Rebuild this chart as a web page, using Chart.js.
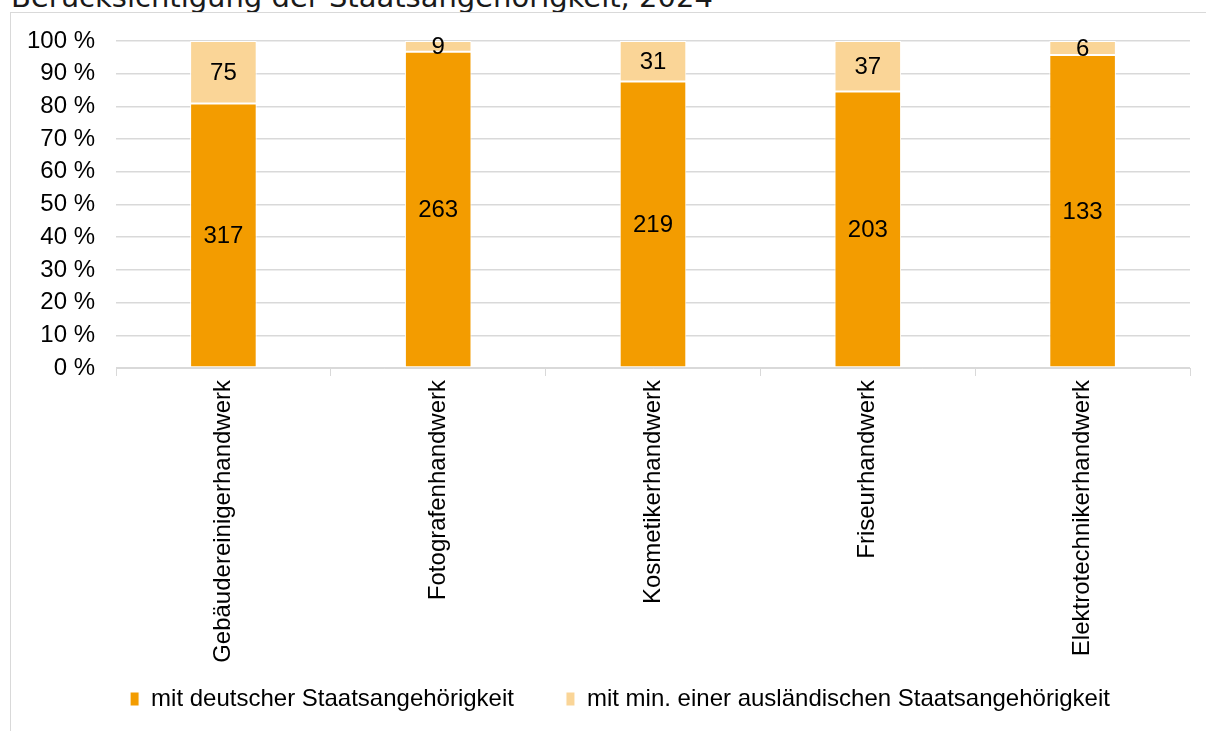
<!DOCTYPE html>
<html>
<head>
<meta charset="utf-8">
<script src="https://cdn.jsdelivr.net/npm/chart.js@4"></script>
<style>
  html, body { margin: 0; padding: 0; background: #fff; overflow: hidden; }
  #wrap { position: relative; width: 1206px; height: 731px; }
  #titel { position: absolute; left: 11px; top: -17px; font: 29px/29px 'DejaVu Sans', sans-serif; color: #1a1a1a; white-space: nowrap; }
  #rahmen { position: absolute; left: 10px; top: 12px; width: 1210px; height: 740px; border: 1px solid #d9d9d9; }
  #grafik { position: absolute; left: 0; top: 0; }
</style>
</head>
<body>
<div id="wrap">
  <div id="titel">Berücksichtigung der Staatsangehörigkeit, 2024</div>
  <div id="rahmen"></div>
  <canvas id="grafik" width="1206" height="731"></canvas>
</div>
<script>
const kategorien = ['Gebäudereinigerhandwerk', 'Fotografenhandwerk', 'Kosmetikerhandwerk', 'Friseurhandwerk', 'Elektrotechnikerhandwerk']
const deutsch = [317, 263, 219, 203, 133]
const auslaendisch = [75, 9, 31, 37, 6]
const serienNamen = ['mit deutscher Staatsangehörigkeit', 'mit min. einer ausländischen Staatsangehörigkeit']

// Anteile in Prozent (gestapelt auf 100 %)
const anteil = (werte) => werte.map((w, i) => w / (deutsch[i] + auslaendisch[i]) * 100)

Chart.defaults.font.family = "'Liberation Sans', Arial, sans-serif"
Chart.defaults.font.size = 24
Chart.defaults.color = '#000'

// Zahlen in die Balken schreiben
const wertePlugin = {
  id: 'werte',
  afterDatasetsDraw(chart) {
    const ctx = chart.ctx
    ctx.save()
    ctx.font = "24px 'Liberation Sans', Arial, sans-serif"
    ctx.fillStyle = '#000'
    ctx.textAlign = 'center'
    ctx.textBaseline = 'middle'
    chart.data.datasets.forEach((ds, d) => {
      chart.getDatasetMeta(d).data.forEach((bar, i) => {
        const mitte = (bar.y + bar.base) / 2
        ctx.fillText(ds.anzahl[i], bar.x, mitte + 1)
      })
    })
    ctx.restore()
  }
}

// lange Kategorienamen nicht abschneiden, Legende etwas nach rechts
const feinschliff = {
  id: 'feinschliff',
  beforeDraw(chart) {
    chart.scales.x.bottom = chart.height
    if (!chart.legend._verschoben) {
      chart.legend.left += 50
      chart.legend._verschoben = true
    }
  }
}

const data = {
  labels: kategorien,
  datasets: [{
    label: serienNamen[0],
    data: anteil(deutsch),
    anzahl: deutsch,
    backgroundColor: '#f39c00',
    borderColor: '#fff',
    borderWidth: 1,
    borderSkipped: false,
    barPercentage: 0.31,
    categoryPercentage: 1
  }, {
    label: serienNamen[1],
    data: anteil(auslaendisch),
    anzahl: auslaendisch,
    backgroundColor: '#fad597',
    borderColor: '#fff',
    borderWidth: 1,
    borderSkipped: false,
    barPercentage: 0.31,
    categoryPercentage: 1
  }]
}

const config = {
  type: 'bar',
  data,
  plugins: [wertePlugin, feinschliff],
  options: {
    responsive: false,
    animation: false,
    layout: { padding: { left: 0, right: 16, top: 41, bottom: 10 } },
    plugins: {
      tooltip: { enabled: false },
      legend: {
        position: 'bottom',
        labels: {
          boxWidth: 9,
          boxHeight: 14,
          padding: 52,
          color: '#000',
          font: { size: 24 }
        }
      }
    },
    scales: {
      x: {
        stacked: true,
        offset: true,
        grid: { offset: true, drawOnChartArea: false, color: '#d9d9d9', tickLength: 8 },
        border: { color: '#d9d9d9' },
        ticks: { minRotation: 90, maxRotation: 90, autoSkip: false, padding: 4, font: { size: 24 } },
        afterFit(scale) { scale.height = 267 }
      },
      y: {
        stacked: true,
        min: 0,
        max: 100,
        grid: { color: '#d9d9d9', lineWidth: 1.5, drawTicks: false },
        border: { display: false },
        ticks: { stepSize: 10, padding: 21, callback: v => v + ' %' },
        afterFit(scale) { scale.width = 116 }
      }
    }
  }
}

new Chart(document.getElementById('grafik'), config)
</script>
</body>
</html>
